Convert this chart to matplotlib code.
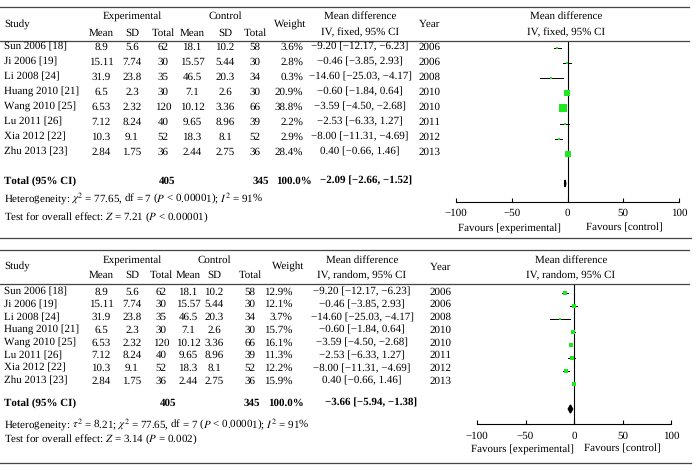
import numpy as np
import matplotlib
matplotlib.use('Agg')
import matplotlib.pyplot as plt
from matplotlib.lines import Line2D
from matplotlib.patches import Polygon

plt.rcParams['font.family'] = 'Liberation Serif'
plt.rcParams['mathtext.fontset'] = 'stix'
plt.rcParams['text.hinting'] = 'no_hinting'
plt.rcParams['text.hinting_factor'] = 1

# data
studies = ['Sun 2006 [18]', 'Ji 2006 [19]', 'Li 2008 [24]', 'Huang 2010 [21]',
           'Wang 2010 [25]', 'Lu 2011 [26]', 'Xia 2012 [22]', 'Zhu 2013 [23]']
exp_mean = [8.9, 15.11, 31.9, 6.5, 6.53, 7.12, 10.3, 2.84]
exp_sd = [5.6, 7.74, 23.8, 2.3, 2.32, 8.24, 9.1, 1.75]
exp_n = [62, 30, 35, 30, 120, 40, 52, 36]
ctl_mean = [18.1, 15.57, 46.5, 7.1, 10.12, 9.65, 18.3, 2.44]
ctl_sd = [10.2, 5.44, 20.3, 2.6, 3.36, 8.96, 8.1, 2.75]
ctl_n = [58, 30, 34, 30, 66, 39, 52, 36]
md = [-9.20, -0.46, -14.60, -0.60, -3.59, -2.53, -8.00, 0.40]
ci_lo = [-12.17, -3.85, -25.03, -1.84, -4.50, -6.33, -11.31, -0.66]
ci_hi = [-6.23, 2.93, -4.17, 0.64, -2.68, 1.27, -4.69, 1.46]
years = [2006, 2006, 2008, 2010, 2010, 2011, 2012, 2013]
w_fixed = [3.6, 2.8, 0.3, 20.9, 38.8, 2.2, 2.9, 28.4]
w_random = [12.9, 12.1, 3.7, 15.7, 16.1, 11.3, 12.2, 15.9]
tot_fixed = [-2.09, -2.66, -1.52]
tot_random = [-3.66, -5.94, -1.38]
tot_exp, tot_ctl = 405, 345
ticks = [-100, -50, 0, 50, 100]

W, H = 697, 471
FS = 8.0
GREEN = '#1ee81e'
LINE = '#444444'

fig = plt.figure(figsize=(W / 100, H / 100), dpi=100)


def T(x, y, s, ha='center', **kw):
    fig.text(x / W, 1 - y / H, s, ha=ha, va='center', fontsize=FS, **kw)


def rule(y, x0=0, x1=689):
    fig.add_artist(Line2D([x0 / W, x1 / W], [1 - y / H] * 2,
                          transform=fig.transFigure, color=LINE, lw=0.9))


def fmt_md(m, lo, hi):
    return f'{m:.2f} [{lo:.2f}, {hi:.2f}]'.replace('-', '\u2212')


def panel(p):
    # header
    rule(p['top'])
    rule(p['hrule'])
    rule(p['bottom'], 0, 691)
    c = p['cols']
    y1, y2, ym = p['hy']
    T(4, ym, 'Study', ha='left')
    T(c['exp_sd'], y1, 'Experimental')
    T(c['ctl_sd'], y1, 'Control')
    for key, lab in [('exp_mean', 'Mean'), ('exp_sd', 'SD'), ('exp_n', 'Total'),
                     ('ctl_mean', 'Mean'), ('ctl_sd', 'SD'), ('ctl_n', 'Total')]:
        T(c[key], y2, lab)
    T(c['wh'], ym, 'Weight')
    T(c['md'], y1, 'Mean difference')
    T(c['md'], y2, p['method'])
    T(c['year'], ym, 'Year')
    T(p['fx'], y1, 'Mean difference')
    T(p['fx'], y2, p['method'])

    # study rows
    w = p['weights']
    for i in range(len(studies)):
        y = p['ty0'] + p['tstep'] * i
        T(4, y, studies[i], ha='left')
        T(c['exp_mean'], y, str(exp_mean[i]))
        T(c['exp_sd'], y, str(exp_sd[i]))
        T(c['exp_n'], y, str(exp_n[i]))
        T(c['ctl_mean'], y, str(ctl_mean[i]))
        T(c['ctl_sd'], y, str(ctl_sd[i]))
        T(c['ctl_n'], y, str(ctl_n[i]))
        T(c['w'], y, f'{w[i]:.1f}%', ha='right')
        T(c['md'], y, fmt_md(md[i], ci_lo[i], ci_hi[i]))
        T(c['year'], y, str(years[i]))

    # total row
    ty = p['toty']
    tot = p['tot']
    T(4, ty, 'Total (95% CI)', ha='left', fontweight='bold')
    T(c['tot_exp'], ty, str(tot_exp), fontweight='bold')
    T(c['tot_ctl'], ty, str(tot_ctl), fontweight='bold')
    T(c['tot_w'], ty, '100.0%', fontweight='bold')
    T(c['tot_md'], ty, fmt_md(*tot), fontweight='bold')
    T(4, p['hety'], p['het'], ha='left')
    T(4, p['testy'], p['test'], ha='left')

    # forest
    x0, x1 = p['ax_x']
    ya, yh = p['ax_y'], p['hrule']
    ax = fig.add_axes([x0 / W, 1 - ya / H, (x1 - x0) / W, (ya - yh) / H])
    ax.set_xlim(-100, 100)
    ax.set_ylim(ya, yh)
    ax.axvline(0, color='black', lw=0.8)
    for i in range(len(studies)):
        y = p['my0'] + p['mstep'] * i
        ax.plot([ci_lo[i], ci_hi[i]], [y, y], color='black', lw=0.7)
        side = max(p['smax'] * np.sqrt(w[i] / max(w)), 2.0)
        ax.plot(md[i], y, marker='s', color=GREEN, markersize=side * 0.72,
                markeredgewidth=0, linestyle='none')
    dy = p['dh']
    yd = p['dy']
    ax.add_patch(Polygon([[tot[1], yd], [tot[0], yd - dy], [tot[2], yd],
                          [tot[0], yd + dy]], closed=True, color='black'))
    for s in ['left', 'right', 'top']:
        ax.spines[s].set_visible(False)
    ax.spines['bottom'].set_linewidth(0.8)
    ax.set_yticks([])
    ax.set_xticks(ticks)
    ax.set_xticklabels([str(t).replace('-', '\u2212') for t in ticks], fontsize=FS)
    ax.tick_params(axis='x', direction='in', length=3, width=0.8, pad=5)
    ax.patch.set_alpha(0)
    fx0, fx1, fy = p['fav']
    T(fx0, fy, 'Favours [experimental]', ha='right')
    T(fx1, fy, 'Favours [control]', ha='left')


fixed = dict(
    top=7, hrule=40.5, bottom=237.5, hy=(16, 33, 24.5), method='IV, fixed, 95% CI',
    cols=dict(exp_mean=101, exp_sd=132, exp_n=163, ctl_mean=192, ctl_sd=225,
              ctl_n=255, wh=290, w=303, md=360, year=430,
              tot_exp=167, tot_ctl=261, tot_w=294, tot_md=366),
    fx=566, weights=w_fixed, ty0=47, tstep=15.0, toty=181,
    tot=tot_fixed, hety=198, testy=217.5,
    het=r'Heterogeneity: $\chi^2$ = 77.65, df = 7 ($P$ < 0.00001); $I^2$ = 91%',
    test=r'Test for overall effect: $Z$ = 7.21 ($P$ < 0.00001)',
    ax_x=(456, 679), ax_y=201.5, my0=48, mstep=15.1, smax=7.3, dy=183.5, dh=3.5,
    fav=(561, 586, 228),
)

random_ = dict(
    top=250, hrule=284, bottom=462.5, hy=(260, 275.5, 267.5), method='IV, random, 95% CI',
    cols=dict(exp_mean=101, exp_sd=132, exp_n=161, ctl_mean=188, ctl_sd=214,
              ctl_n=250, wh=288, w=292, md=362, year=441,
              tot_exp=168, tot_ctl=252, tot_w=286, tot_md=371),
    fx=571, weights=w_random, ty0=292, tstep=12.7, toty=403,
    tot=tot_random, hety=424.5, testy=439.5,
    het=r'Heterogeneity: $\tau^2$ = 8.21; $\chi^2$ = 77.65, df = 7 ($P$ < 0.00001); $I^2$ = 91%',
    test=r'Test for overall effect: $Z$ = 3.14 ($P$ = 0.002)',
    ax_x=(477, 671), ax_y=424, my0=292.5, mstep=13.1, smax=3.8, dy=409, dh=4,
    fav=(574, 584, 449),
)

panel(fixed)
panel(random_)

fig.savefig('out.png', dpi=100)
